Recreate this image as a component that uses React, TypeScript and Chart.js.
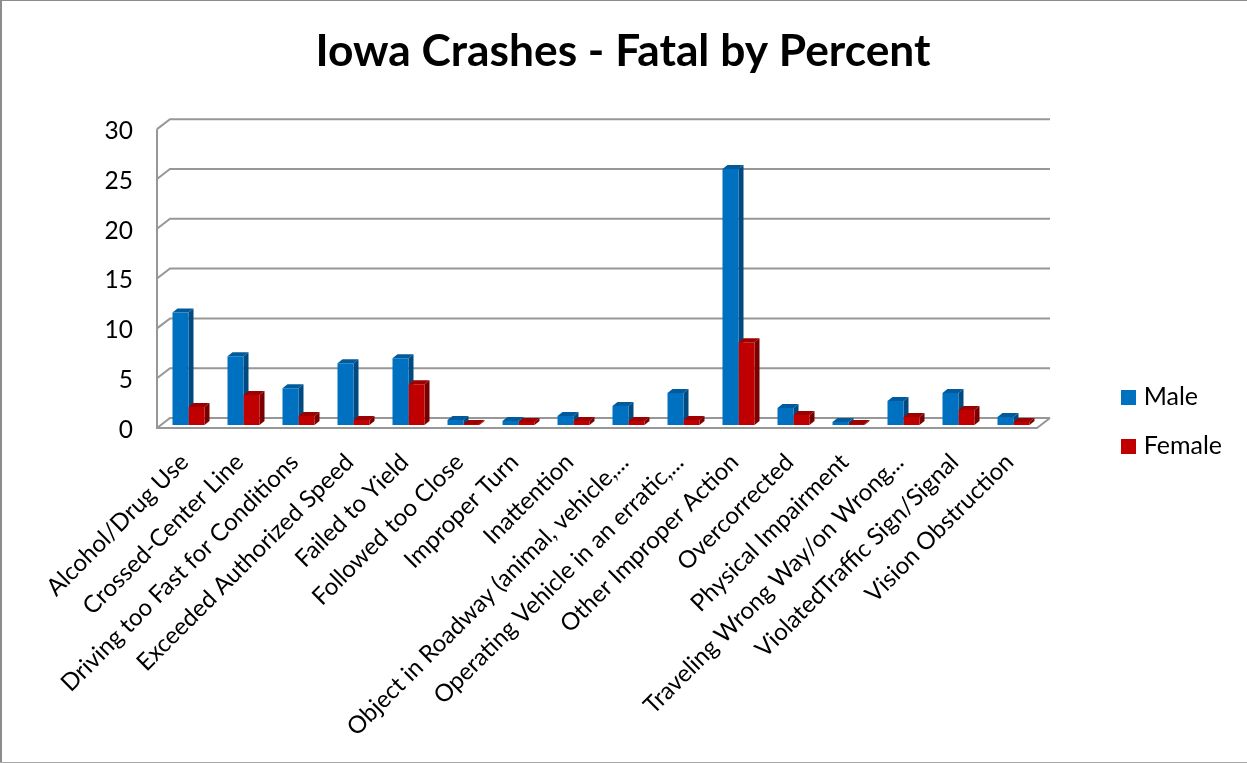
import React, { useEffect, useRef } from "react";
import { Chart, registerables } from "chart.js";

Chart.register(...registerables);

const categories = [
  "Alcohol/Drug Use",
  "Crossed-Center Line",
  "Driving too Fast for Conditions",
  "Exceeded Authorized Speed",
  "Failed to Yield",
  "Followed too Close",
  "Improper Turn",
  "Inattention",
  "Object in Roadway (animal, vehicle,...",
  "Operating Vehicle in an erratic,...",
  "Other Improper Action",
  "Overcorrected",
  "Physical Impairment",
  "Traveling Wrong Way/on Wrong...",
  "ViolatedTraffic Sign/Signal",
  "Vision Obstruction",
];
const maleValues = [11.3, 6.9, 3.7, 6.2, 6.7, 0.5, 0.4, 0.9, 1.9, 3.2, 25.7, 1.7, 0.3, 2.4, 3.2, 0.8];
const femaleValues = [1.8, 3.0, 0.9, 0.5, 4.1, 0.1, 0.3, 0.4, 0.4, 0.5, 8.3, 1.0, 0.1, 0.8, 1.5, 0.3];
const yTicks = [0, 5, 10, 15, 20, 25, 30];

const DEPTH_X = 13;
const DEPTH_Y = 10;
const BAR_DX = 4;
const BAR_DY = 3;
const BAR_DEPTH_X = 5;
const BAR_DEPTH_Y = 4;
const GRID = "#979797";
const FONT = "Lato, Carlito, sans-serif";
const MALE = "#0070c0";
const FEMALE = "#c00000";
const shades = [
  { top: "#005a9c", side: "#004a80" },
  { top: "#9c0000", side: "#7a0000" },
];

function swatch(color: string) {
  const c = document.createElement("canvas");
  c.width = 15;
  c.height = 15;
  const g = c.getContext("2d")!;
  g.fillStyle = color;
  g.fillRect(0, 0, 15, 15);
  return c;
}

const frame3d = {
  id: "frame3d",
  afterLayout(chart: any) {
    const legend = chart.legend;
    const dx = chart.width - 15 - legend.width - legend.left;
    legend.left += dx;
    legend.right += dx;
  },
  beforeDatasetsDraw(chart: any) {
    const { ctx, chartArea } = chart;
    const y = chart.scales.y;
    const { left, right } = chartArea;
    ctx.save();
    ctx.strokeStyle = GRID;
    ctx.lineWidth = 2;
    ctx.beginPath();
    for (const t of yTicks) {
      const py = y.getPixelForValue(t);
      ctx.moveTo(left, py);
      ctx.lineTo(left + DEPTH_X, py - DEPTH_Y);
      ctx.lineTo(right + DEPTH_X, py - DEPTH_Y);
    }
    const y0 = y.getPixelForValue(0);
    ctx.moveTo(left, y.getPixelForValue(30));
    ctx.lineTo(left, y0);
    ctx.lineTo(right, y0);
    ctx.lineTo(right + DEPTH_X, y0 - DEPTH_Y);
    ctx.stroke();
    ctx.restore();

    ctx.save();
    ctx.translate(BAR_DX, -BAR_DY);
    [0, 1].forEach((di) => {
      const meta = chart.getDatasetMeta(di);
      meta.data.forEach((bar: any) => {
        const { x, y: top, base, width } = bar.getProps(["x", "y", "base", "width"], true);
        const l = x - width / 2;
        const r = x + width / 2;
        ctx.fillStyle = shades[di].top;
        ctx.beginPath();
        ctx.moveTo(l, top);
        ctx.lineTo(l + BAR_DEPTH_X, top - BAR_DEPTH_Y);
        ctx.lineTo(r + BAR_DEPTH_X, top - BAR_DEPTH_Y);
        ctx.lineTo(r, top);
        ctx.closePath();
        ctx.fill();
        ctx.fillStyle = shades[di].side;
        ctx.beginPath();
        ctx.moveTo(r, top);
        ctx.lineTo(r + BAR_DEPTH_X, top - BAR_DEPTH_Y);
        ctx.lineTo(r + BAR_DEPTH_X, base - BAR_DEPTH_Y);
        ctx.lineTo(r, base);
        ctx.closePath();
        ctx.fill();
      });
    });
  },
  afterDatasetsDraw(chart: any) {
    chart.ctx.restore();
  },
  afterDraw(chart: any) {
    const { ctx, width, height } = chart;
    ctx.save();
    ctx.fillStyle = "#8c8c8c";
    ctx.fillRect(0, 0, width, 1);
    ctx.fillRect(0, 0, 2, height);
    ctx.fillStyle = "#a8a8a8";
    ctx.fillRect(0, height - 1, width, 1);
    ctx.restore();
  },
};

export default function App() {
  const ref = useRef<HTMLCanvasElement>(null);
  useEffect(() => {
    document.body.style.margin = "0";
    const chart = new Chart(ref.current!, {
      type: "bar",
      plugins: [frame3d],
      data: {
        labels: categories,
        datasets: [
          { label: "Male", data: maleValues, backgroundColor: MALE },
          { label: "Female", data: femaleValues, backgroundColor: FEMALE },
        ],
      },
      options: {
        animation: false,
        responsive: false,
        layout: { padding: { left: 0, right: 1, top: 25, bottom: -55 } },
        datasets: { bar: { categoryPercentage: 32 / 55, barPercentage: 1 } },
        plugins: {
          tooltip: { enabled: false },
          title: {
            display: true,
            text: "Iowa Crashes - Fatal by Percent",
            font: { family: FONT, size: 44.3, weight: "bold" },
            color: "#000",
            padding: { top: 0, bottom: 51 },
          },
          legend: {
            position: "right",
            labels: {
              usePointStyle: true,
              pointStyleWidth: 5,
              boxHeight: 15,
              padding: 24,
              font: { family: FONT, size: 25 },
              color: "#000",
              generateLabels: () => [
                { text: "Male", pointStyle: swatch(MALE), fillStyle: MALE, strokeStyle: MALE, lineWidth: 0, datasetIndex: 0 },
                { text: "Female", pointStyle: swatch(FEMALE), fillStyle: FEMALE, strokeStyle: FEMALE, lineWidth: 0, datasetIndex: 1 },
              ],
            },
          },
        },
        scales: {
          x: {
            grid: { display: false },
            border: { display: false },
            ticks: {
              autoSkip: false,
              minRotation: 45,
              maxRotation: 45,
              padding: 12,
              color: "#000",
              font: { family: FONT, size: 24 },
            },
            afterFit(s: any) {
              s.height = 390;
              s.paddingRight = 210;
              s.paddingLeft = 0;
            },
          },
          y: {
            min: 0,
            max: 30,
            grid: { display: false },
            border: { display: false },
            afterBuildTicks(s: any) {
              s.ticks = yTicks.map((value) => ({ value }));
            },
            ticks: {
              padding: 16,
              labelOffset: 2,
              color: "#000",
              font: { family: FONT, size: 24.5 },
            },
            afterFit(s: any) {
              s.width = 157;
            },
          },
        },
      } as any,
    });
    return () => chart.destroy();
  }, []);
  return (
    <div style={{ width: 1247, height: 763 }}>
      <canvas ref={ref} width={1247} height={763} style={{ display: "block" }} />
    </div>
  );
}
